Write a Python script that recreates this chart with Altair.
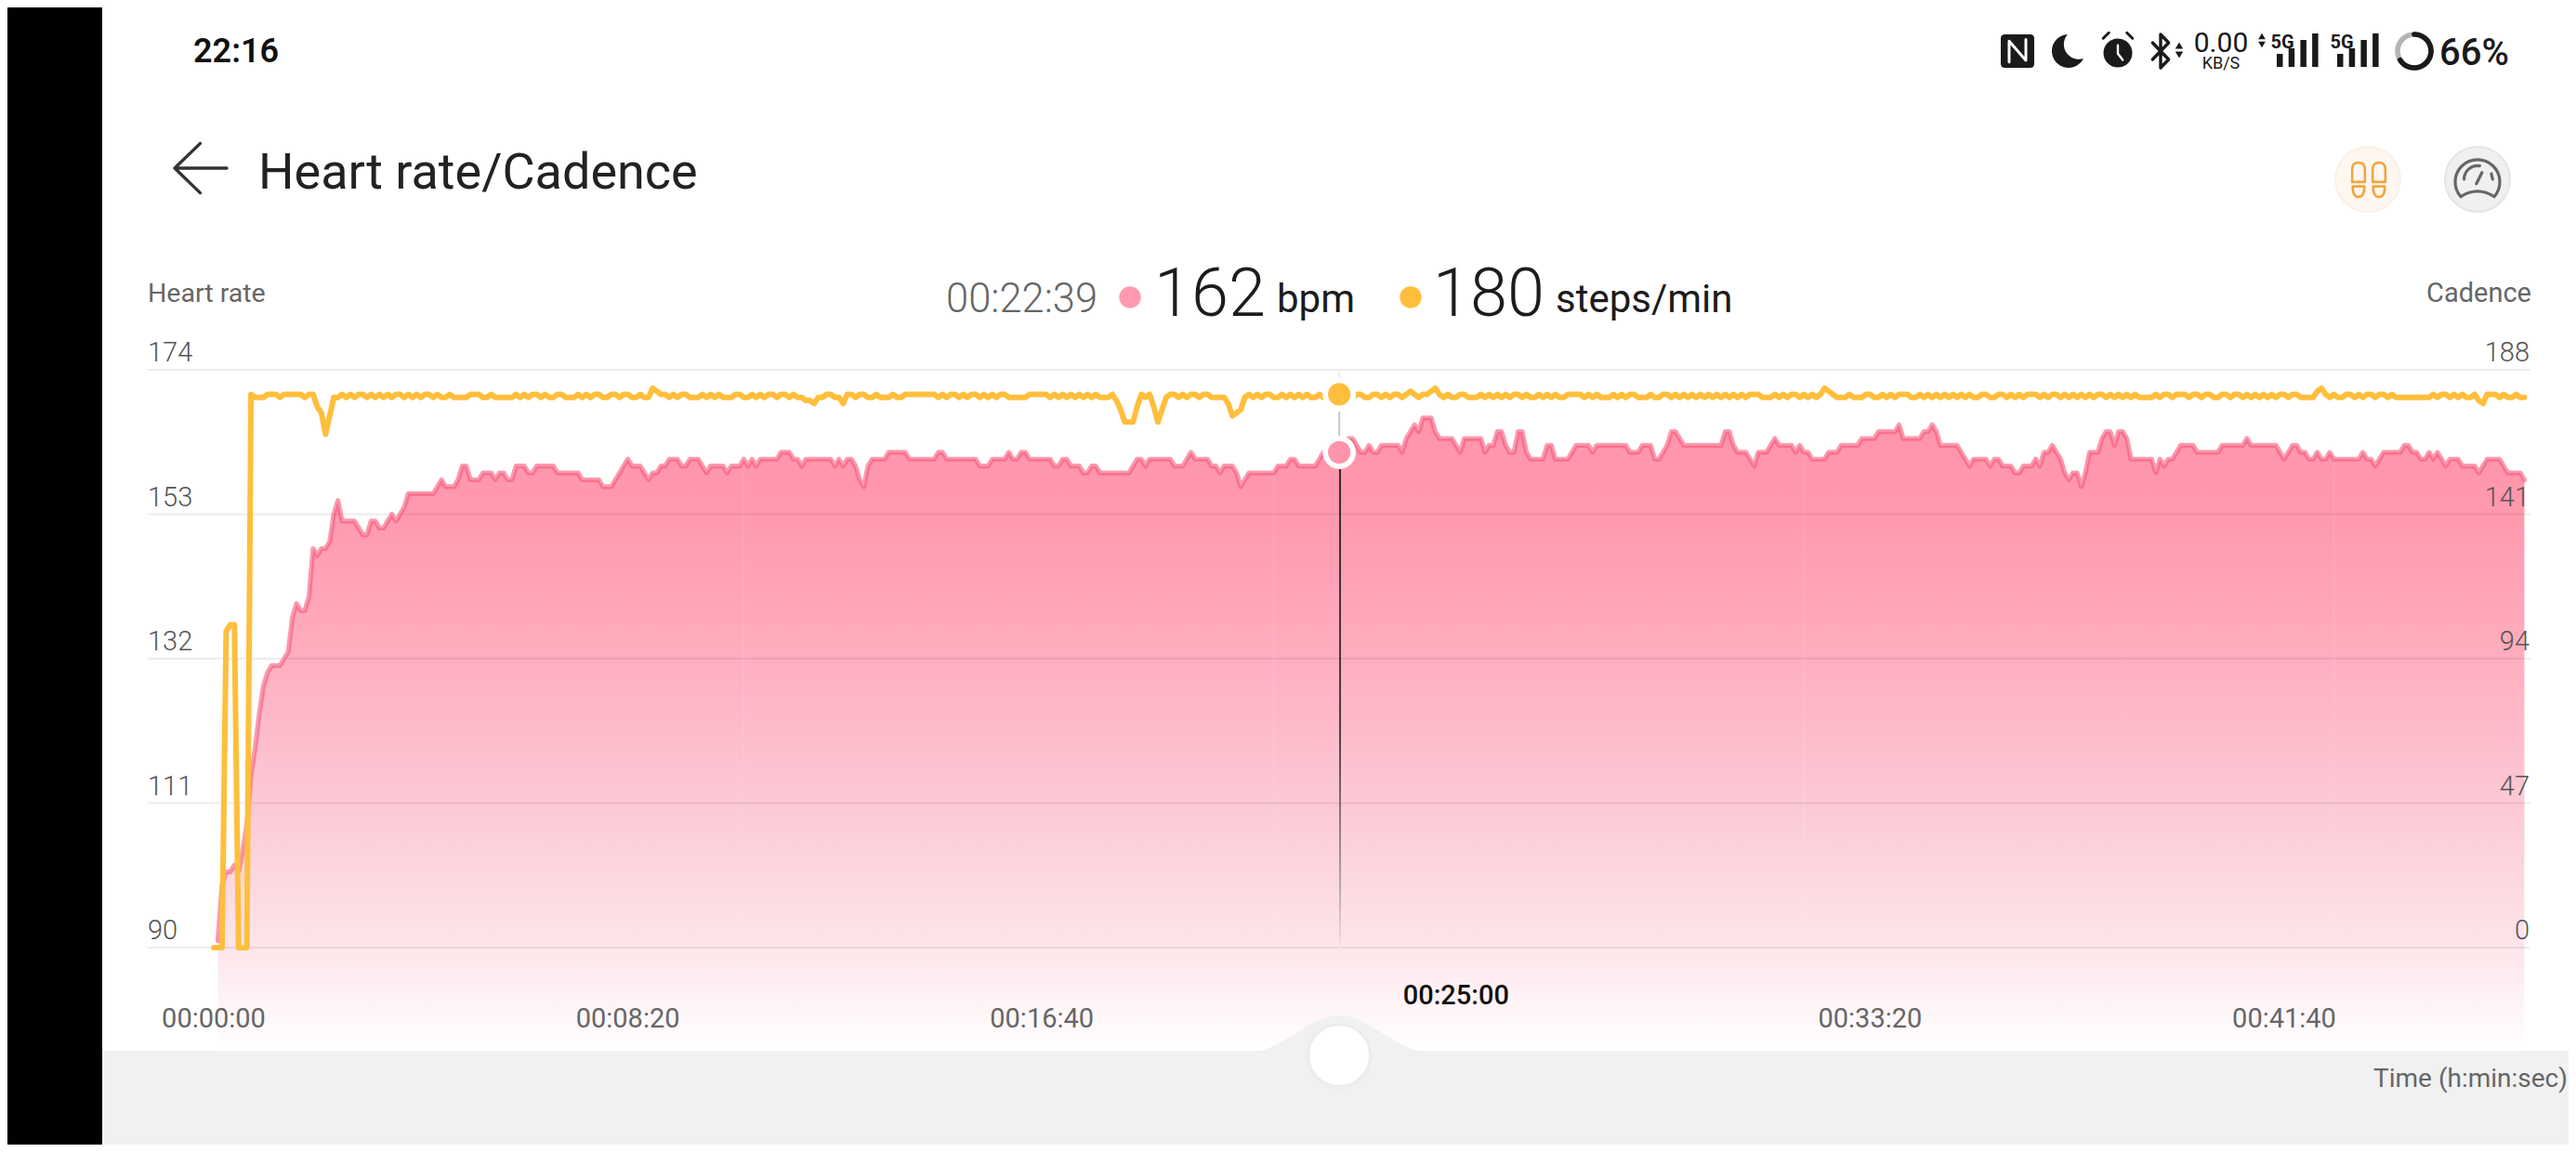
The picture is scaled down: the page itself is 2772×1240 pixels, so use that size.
import altair as alt
import pandas as pd

# ---------- series (one reading every 5 seconds) ----------
heart_rate = [
    91, 99, 101, 101, 102, 101, 104, 108, 115, 119, 124, 128, 130, 131, 131, 131, 132, 133, 138,
    140, 139, 139, 141, 148, 147, 148, 148, 149, 153, 155, 152, 152, 152, 152, 151, 150, 150, 152, 152,
    151, 151, 152, 153, 152, 153, 154, 156, 156, 156, 156, 156, 156, 156, 157, 158, 157, 157, 157, 158,
    160, 160, 158, 158, 158, 159, 159, 159, 158, 159, 159, 158, 158, 160, 160, 160, 159, 159, 160, 160,
    160, 160, 160, 159, 159, 159, 159, 159, 159, 158, 158, 158, 158, 158, 157, 157, 157, 158, 159, 160,
    161, 160, 160, 160, 159, 158, 159, 159, 160, 160, 161, 161, 161, 160, 160, 161, 161, 161, 160, 159,
    160, 160, 160, 160, 159, 160, 160, 160, 161, 160, 161, 160, 161, 161, 161, 161, 161, 162, 162, 162,
    161, 161, 160, 161, 161, 161, 161, 161, 161, 161, 160, 161, 160, 161, 161, 160, 158, 157, 160, 161,
    161, 161, 161, 162, 162, 162, 162, 162, 161, 161, 161, 161, 161, 161, 161, 162, 162, 161, 161, 161,
    161, 161, 161, 161, 161, 160, 160, 160, 161, 161, 161, 161, 162, 161, 161, 162, 162, 161, 161, 161,
    161, 161, 161, 160, 160, 161, 161, 160, 160, 160, 159, 159, 160, 160, 159, 159, 159, 159, 159, 159,
    159, 159, 160, 161, 161, 160, 161, 161, 161, 161, 161, 161, 160, 160, 160, 161, 162, 161, 161, 161,
    161, 160, 160, 159, 160, 160, 160, 159, 157, 158, 159, 159, 159, 159, 159, 159, 159, 160, 160, 160,
    161, 161, 160, 160, 160, 160, 160, 161, 162, 162, 162, 162, 162, 163, 164, 164, 163, 162, 162, 163,
    162, 162, 163, 163, 163, 163, 163, 162, 164, 165, 166, 165, 167, 167, 167, 165, 164, 164, 164, 164,
    163, 162, 164, 164, 164, 164, 164, 162, 163, 163, 165, 165, 163, 162, 162, 165, 165, 162, 161, 161,
    161, 161, 163, 163, 161, 161, 161, 161, 162, 163, 163, 163, 163, 162, 163, 163, 163, 163, 163, 163,
    163, 163, 162, 162, 162, 163, 163, 163, 161, 161, 162, 163, 165, 165, 164, 163, 163, 163, 163, 163,
    163, 163, 163, 163, 163, 165, 165, 163, 162, 162, 162, 161, 160, 162, 162, 162, 163, 164, 163, 163,
    163, 163, 162, 163, 162, 162, 161, 161, 161, 161, 162, 162, 162, 163, 163, 163, 163, 163, 164, 164,
    164, 164, 165, 165, 165, 165, 165, 166, 164, 164, 164, 164, 164, 165, 165, 166, 165, 163, 163, 163,
    163, 163, 162, 161, 160, 161, 161, 161, 161, 160, 161, 161, 160, 160, 160, 159, 159, 160, 160, 160,
    161, 160, 162, 162, 163, 162, 161, 159, 158, 159, 159, 157, 159, 162, 162, 162, 164, 165, 165, 163,
    165, 165, 164, 161, 161, 161, 161, 161, 161, 159, 161, 160, 161, 161, 162, 163, 163, 163, 163, 162,
    162, 162, 162, 162, 162, 163, 163, 163, 163, 163, 163, 164, 163, 163, 163, 163, 163, 163, 163, 162,
    161, 162, 163, 163, 162, 162, 161, 161, 162, 161, 161, 162, 161, 161, 161, 161, 161, 161, 161, 162,
    161, 161, 160, 161, 162, 162, 162, 162, 162, 163, 163, 162, 162, 161, 161, 162, 161, 162, 161, 160,
    161, 161, 161, 160, 160, 160, 160, 159, 160, 161, 161, 161, 161, 160, 159, 159, 159, 159, 158,
]
cadence = [
    0, 0, 0, 103, 105, 105, 0, 0, 0, 180, 179, 179, 179, 180, 180, 180, 179, 180, 180, 180,
    180, 180, 179, 180, 180, 176, 174, 167, 173, 179, 179, 180, 179, 180, 179, 180, 180, 179, 180, 179,
    180, 179, 180, 179, 180, 180, 179, 180, 179, 180, 179, 180, 180, 179, 180, 179, 179, 180, 179, 179,
    179, 179, 180, 180, 180, 179, 179, 180, 179, 179, 179, 179, 179, 180, 179, 180, 179, 180, 180, 179,
    180, 179, 179, 180, 180, 179, 179, 179, 180, 179, 180, 179, 180, 180, 179, 179, 180, 180, 179, 180,
    180, 179, 179, 180, 179, 179, 182, 181, 180, 180, 179, 180, 179, 180, 180, 179, 179, 179, 180, 179,
    180, 179, 180, 179, 179, 179, 180, 180, 179, 179, 180, 179, 180, 179, 180, 180, 179, 180, 180, 179,
    180, 179, 179, 178, 178, 177, 179, 179, 180, 180, 179, 179, 177, 180, 180, 179, 180, 180, 179, 179,
    180, 179, 179, 179, 180, 179, 179, 180, 180, 180, 180, 180, 180, 180, 180, 179, 180, 179, 180, 180,
    179, 180, 179, 180, 180, 179, 180, 179, 180, 179, 180, 180, 179, 179, 179, 179, 179, 180, 180, 180,
    180, 180, 179, 180, 179, 180, 179, 180, 179, 180, 179, 180, 179, 180, 179, 179, 179, 180, 178, 175,
    171, 171, 171, 176, 180, 179, 180, 176, 171, 175, 179, 180, 180, 179, 180, 179, 180, 180, 179, 180,
    180, 179, 179, 179, 179, 177, 173, 174, 175, 179, 180, 179, 180, 179, 180, 180, 179, 179, 180, 179,
    180, 179, 180, 179, 180, 179, 179, 180, 179, 180, 180, 180, 180, 179, 180, 179, 180, 180, 179, 179,
    180, 180, 179, 180, 179, 180, 180, 179, 180, 181, 180, 179, 180, 180, 181, 182, 180, 179, 180, 179,
    179, 180, 180, 179, 179, 179, 180, 179, 180, 179, 180, 179, 180, 179, 180, 180, 179, 180, 179, 179,
    180, 179, 180, 179, 180, 179, 179, 180, 180, 180, 180, 179, 180, 179, 180, 179, 179, 179, 180, 179,
    180, 179, 180, 180, 179, 179, 179, 180, 179, 179, 180, 180, 179, 180, 179, 180, 179, 180, 179, 180,
    179, 180, 179, 180, 179, 180, 179, 180, 179, 180, 179, 180, 180, 180, 179, 179, 179, 180, 179, 180,
    179, 180, 180, 179, 180, 179, 180, 179, 180, 182, 181, 180, 179, 179, 179, 180, 179, 179, 179, 180,
    180, 179, 179, 180, 179, 180, 179, 180, 180, 180, 179, 179, 180, 179, 180, 179, 180, 179, 180, 179,
    180, 179, 180, 179, 180, 179, 179, 180, 180, 179, 179, 180, 180, 179, 180, 179, 180, 179, 180, 180,
    180, 179, 180, 179, 180, 180, 179, 180, 179, 180, 179, 180, 179, 180, 179, 180, 180, 179, 180, 179,
    180, 179, 180, 179, 180, 179, 179, 179, 179, 180, 179, 180, 180, 179, 180, 180, 180, 179, 180, 180,
    179, 180, 180, 179, 179, 180, 180, 179, 180, 180, 179, 180, 179, 180, 179, 180, 179, 180, 179, 180,
    180, 179, 180, 180, 179, 179, 179, 179, 181, 182, 180, 179, 180, 179, 179, 180, 180, 179, 180, 179,
    180, 180, 179, 180, 180, 179, 180, 179, 179, 179, 179, 179, 179, 179, 179, 179, 180, 179, 180, 180,
    179, 180, 179, 180, 179, 179, 180, 178, 177, 180, 180, 180, 179, 180, 179, 179, 180, 179, 179,
]
hr_ticks = [174, 153, 132, 111, 90]
cad_ticks = [188, 141, 94, 47, 0]
time_tick_seconds = [0, 500, 1000, 2000, 2500]
time_tick_labels = ["00:00:00", "00:08:20", "00:16:40", "00:33:20", "00:41:40"]
selected_tick_seconds = [1500]
selected_tick_labels = ["00:25:00"]
selected_time = [1359]
selected_hr = [162]
selected_cadence = [180]
seam_seconds = [640, 1280, 1920, 2560]
seam_hr = [161, 159, 162, 161]
area_floor_hr = 75

# ---------- page geometry ----------
W, H = 2756, 1224
OFF = 8
X0, PX_PER_S = 230.0, 0.8912
Y_TOP, Y_BASE = 398.0, 1020.0
ppb = (Y_BASE - Y_TOP) / (hr_ticks[0] - hr_ticks[-1])
ppc = (Y_BASE - Y_TOP) / (cad_ticks[0] - cad_ticks[-1])

x_scale = alt.Scale(domain=[(OFF - X0) / PX_PER_S, (W + OFF - X0) / PX_PER_S], nice=False, zero=False)
hr_scale = alt.Scale(domain=[90 - (H + OFF - Y_BASE) / ppb, 174 + (Y_TOP - OFF) / ppb], nice=False, zero=False)
cad_scale = alt.Scale(domain=[0 - (H + OFF - Y_BASE) / ppc, 188 + (Y_TOP - OFF) / ppc], nice=False, zero=False)

hr_df = pd.DataFrame({"t": [5 * (i + 1) for i in range(len(heart_rate))], "v": heart_rate,
                      "floor": area_floor_hr})
cad_df = pd.DataFrame({"t": [5 * i for i in range(len(cadence))], "v": cadence})
X = alt.X("t:Q", scale=x_scale, axis=None)
YH = alt.Y("v:Q", scale=hr_scale, axis=None)
YC = alt.Y("v:Q", scale=cad_scale, axis=None)
one = pd.DataFrame({"a": [0]})
GREY, DARK = "#666666", "#1c1c1c"
FONT = "Roboto"


def vx(x):
    return alt.value(x - OFF)


def box(x0, y0, x1, y1, color, **kw):
    return alt.Chart(one).mark_rect(color=color, **kw).encode(
        x=vx(x0), x2=vx(x1), y=vx(y0), y2=vx(y1))


def label(txt, x, y, size, color=GREY, align="left", weight=400, baseline="alphabetic"):
    return alt.Chart(pd.DataFrame({"s": [txt]})).mark_text(
        font=FONT, fontSize=size, color=color, align=align, baseline=baseline, fontWeight=weight
    ).encode(x=vx(x), y=vx(y), text="s:N")


def solid(path, cx, cy, r, color):
    return alt.Chart(one).mark_point(shape=path, size=(2 * r) ** 2, filled=True, color=color,
                                     opacity=1, strokeWidth=0).encode(x=vx(cx), y=vx(cy))


def outline(path, cx, cy, r, color, sw):
    return alt.Chart(one).mark_point(shape=path, size=(2 * r) ** 2, filled=False, color=color,
                                     opacity=1, strokeWidth=sw, strokeCap="round", strokeJoin="round"
                                     ).encode(x=vx(cx), y=vx(cy))


def disc(cx, cy, r, fill, stroke=None, sw=0):
    kw = dict(fill=fill, opacity=1, size=(2 * r) ** 2, shape="circle", strokeWidth=sw, filled=True)
    if stroke:
        kw["stroke"] = stroke
    return alt.Chart(one).mark_point(**kw).encode(x=vx(cx), y=vx(cy))


area_fill = alt.LinearGradient(
    gradient="linear", x1=0, y1=0, x2=0, y2=1,
    stops=[alt.GradientStop(offset=0, color="#ff94aa"),
           alt.GradientStop(offset=0.154, color="#ff99ae"),
           alt.GradientStop(offset=0.38, color="#ffaebf"),
           alt.GradientStop(offset=0.61, color="#fcc9d5"),
           alt.GradientStop(offset=0.84, color="#fde6eb"),
           alt.GradientStop(offset=1, color="#ffffff")])
cross_fill = alt.LinearGradient(
    gradient="linear", x1=0, y1=0, x2=0, y2=1,
    stops=[alt.GradientStop(offset=0, color="#201a1c"),
           alt.GradientStop(offset=0.55, color="#3a2e32"),
           alt.GradientStop(offset=0.88, color="#b3a5aa"),
           alt.GradientStop(offset=1, color="#f6e4e8")])

layers = []
# chrome behind the chart
layers.append(box(OFF, OFF, 110, 1240, "#000000"))

# heart rate area
layers.append(alt.Chart(hr_df).mark_area(color=area_fill, opacity=1).encode(x=X, y=YH, y2="floor:Q"))
# faint seams in the area
layers.append(alt.Chart(pd.DataFrame({"t": seam_seconds, "v": seam_hr})).mark_rule(
    color="#ffffff", opacity=0.1, strokeWidth=1.5).encode(x=X, y=YH, y2=vx(1131)))
# gridlines
layers.append(alt.Chart(pd.DataFrame({"v": hr_ticks})).mark_rule(
    color="#000000", opacity=0.07, strokeWidth=2).encode(y=YH, x=vx(159), x2=vx(2723)))
# crosshair
sel_df = pd.DataFrame({"t": selected_time, "t2": [selected_time[0] + 2], "h": selected_hr, "c": selected_cadence})
layers.append(alt.Chart(sel_df).mark_rect(color=cross_fill).encode(
    x=X, x2="t2:Q", y=vx(505), y2=vx(1022)))
layers.append(alt.Chart(sel_df).mark_rule(color="#c8c8c8", strokeWidth=2).encode(
    x=X, y=vx(443), y2=vx(470)))
layers.append(alt.Chart(sel_df).mark_rule(color="#ececec", strokeWidth=2).encode(
    x=X, y=vx(398), y2=vx(410)))
# lines
layers.append(alt.Chart(hr_df).mark_line(color="#f5587a", opacity=0.6, strokeWidth=5.2, strokeJoin="round",
                                         strokeCap="round", interpolate="linear").encode(x=X, y=YH))
layers.append(alt.Chart(cad_df).mark_line(color="#ffbe3c", strokeWidth=6, strokeJoin="round",
                                          strokeCap="round", interpolate="linear").encode(x=X, y=YC))
# selected markers
layers.append(alt.Chart(sel_df).mark_point(shape="circle", filled=True, fill="#ffbe3c", stroke="#ffffff",
                                           strokeWidth=5.7, opacity=1, size=900).encode(
    x=X, y=alt.Y("c:Q", scale=cad_scale, axis=None)))
layers.append(alt.Chart(sel_df).mark_point(shape="circle", filled=True, fill="#ff94aa", stroke="#ffffff",
                                           strokeWidth=5.7, opacity=1, size=900).encode(
    x=X, y=alt.Y("h:Q", scale=hr_scale, axis=None)))
# axis labels
layers.append(alt.Chart(pd.DataFrame({"v": hr_ticks, "s": [str(v) for v in hr_ticks]})).mark_text(
    font=FONT, fontSize=29, fontWeight=300, color="#555555", align="left", baseline="alphabetic", dy=-9
).encode(x=vx(159), y=YH, text="s:N"))
layers.append(alt.Chart(pd.DataFrame({"v": cad_ticks, "s": [str(v) for v in cad_ticks]})).mark_text(
    font=FONT, fontSize=29, fontWeight=300, color="#555555", align="right", baseline="alphabetic", dy=-9
).encode(x=vx(2722), y=YC, text="s:N"))
layers.append(alt.Chart(pd.DataFrame({"t": time_tick_seconds, "s": time_tick_labels})).mark_text(
    font=FONT, fontSize=29, color=GREY, align="center", baseline="alphabetic"
).encode(x=X, y=vx(1106), text="s:N"))
layers.append(alt.Chart(pd.DataFrame({"t": selected_tick_seconds, "s": selected_tick_labels})).mark_text(
    font=FONT, fontSize=29, color="#111111", fontWeight=500, align="center", baseline="alphabetic"
).encode(x=X, y=vx(1081), text="s:N"))

# bottom panel with slider
layers.append(box(110, 1131, 2772, 1240, "#f1f1f1"))
layers.append(solid("M-1,0.02C-0.82,0 -0.66,-0.1 -0.45,-0.23C-0.3,-0.33 -0.15,-0.404 0,-0.404"
                    "C0.15,-0.404 0.3,-0.33 0.45,-0.23C0.66,-0.1 0.82,0 1,0.02Z", 1441, 1131, 94, "#f1f1f1"))
layers.append(disc(1441, 1137, 36, "#eeeeee"))
layers.append(disc(1441, 1136, 33, "#ffffff", "#ebebeb", 2))
layers.append(label("Time (h:min:sec)", 2763, 1170, 28, align="right"))

# header
layers.append(outline("M1,0H-1M-0.02,-0.95L-1,0L-0.02,0.95", 216, 181, 28, "#333333", 3.4))
layers.append(label("Heart rate/Cadence", 278, 203, 54, color="#222222"))
layers.append(disc(2548, 193, 35, "#fdf7ef", "#f9f1e7", 2))
for cx in (2538, 2560):
    layers.append(outline("M-0.36,0.1V-0.6Q-0.36,-1 0,-1Q0.36,-1 0.36,-0.6V0.1ZM-0.33,0.35H0.33Q0.33,0.95 0,0.95Q-0.33,0.95 -0.33,0.35Z",
                          cx, 194, 19, "#efa63f", 2.6))
layers.append(disc(2666, 193, 35, "#f0f0f0", "#e4e4e4", 2))
layers.append(outline("M-0.75,0.78A1,1 0 1 1 0.75,0.78M-0.75,0.78Q0,0.3 0.75,0.78M-0.6,0A0.6,0.6 0 0 1 0.1,-0.6M0.62,-0.25L0.68,0M-0.05,0.2L0.2,-0.3",
                      2666, 193, 24, "#666666", 3.2))

# readout
layers.append(label("00:22:39", 1018, 336, 43.5, color=GREY, weight=300))
layers.append(disc(1216, 320, 11.7, "#ff9ab0"))
layers.append(label("162", 1242, 340, 72, color=DARK, weight=300))
layers.append(label("bpm", 1374, 336, 42, color=DARK))
layers.append(disc(1518, 320, 11.7, "#ffbe3c"))
layers.append(label("180", 1542, 340, 72, color=DARK, weight=300))
layers.append(label("steps/min", 1674, 336, 42, color=DARK))
layers.append(label("Heart rate", 159, 325, 28.5))
layers.append(label("Cadence", 2724, 325, 29, align="right"))

# status bar
layers.append(label("22:16", 208, 67, 36, color="#111111", weight=600))
layers.append(solid("M-0.75,-1H0.75Q1,-1 1,-0.75V0.75Q1,1 0.75,1H-0.75Q-1,1 -1,0.75V-0.75Q-1,-1 -0.75,-1Z",
                    2171, 55, 18, "#1a1a1a"))
layers.append(outline("M-0.5,0.65V-0.6L0.5,0.55V-0.7", 2171, 55, 18, "#ffffff", 3))
layers.append(solid("M0.05,-1A1,1 0 1 0 1,0.45A0.9,0.9 0 0 1 0.05,-1Z", 2224, 55, 18, "#1a1a1a"))
layers.append(disc(2279, 57, 15.5, "#1a1a1a"))
layers.append(outline("M-1.05,-1.05L-0.65,-1.45M1.05,-1.05L0.65,-1.45", 2279, 57, 15, "#1a1a1a", 3))
layers.append(outline("M0,-0.55V0.05L0.35,0.5", 2279, 57, 15, "#ffffff", 2.4))
layers.append(outline("M-0.48,-0.5L0.48,0.5L0,1V-1L0.48,-0.5L-0.48,0.5", 2325, 55, 18, "#1a1a1a", 3.4))
for (cx, cy, shape, sz) in [(2345, 49, "triangle-up", 70), (2345, 59, "triangle-down", 70),
                            (2434, 39, "triangle-up", 60), (2434, 48, "triangle-down", 60)]:
    layers.append(alt.Chart(one).mark_point(shape=shape, size=sz, filled=True, color="#1a1a1a", opacity=1,
                                            strokeWidth=0).encode(x=vx(cx), y=vx(cy)))
layers.append(label("0.00", 2390, 56, 30, color="#1a1a1a", align="center"))
layers.append(label("KB/S", 2390, 74, 18, color="#1a1a1a", align="center"))
layers.append(label("5G", 2456, 52, 20, color="#1a1a1a", align="center", weight=700))
layers.append(label("5G", 2520, 52, 20, color="#1a1a1a", align="center", weight=700))
for start in (2450, 2515):
    for k, top in enumerate((58, 52, 43, 36)):
        x0 = start + k * 12.7
        layers.append(box(x0, top, x0 + 6.5, 72, "#1a1a1a"))
layers.append(outline("M0,-1A1,1 0 1 1 -0.001,-1", 2598, 55, 18, "#b5b5b5", 5.6))
layers.append(outline("M0,-1A1,1 0 1 1 -0.844,0.536", 2598, 55, 18, "#1a1a1a", 5.6))
layers.append(label("66%", 2625, 70, 40, color="#1a1a1a", weight=500))

chart = alt.layer(*layers).resolve_scale(y="independent", x="shared").properties(
    width=W, height=H, padding=0, background="#ffffff",
    autosize=alt.AutoSizeParams(type="none"),
).configure_view(strokeWidth=0)

chart.save("out.html", embed_options={"renderer": "svg", "actions": False})
